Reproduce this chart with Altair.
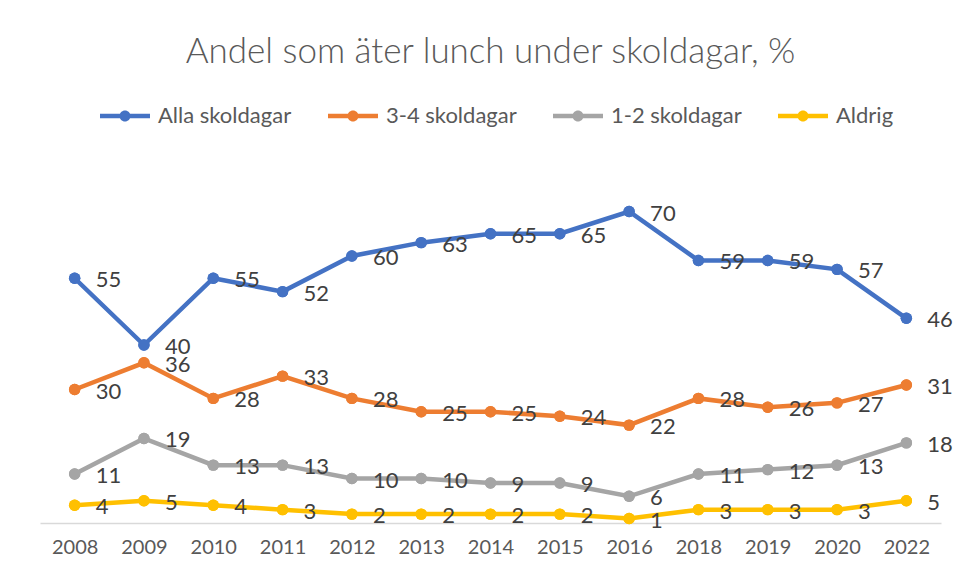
import altair as alt
import pandas as pd

years = ["2008", "2009", "2010", "2011", "2012", "2013", "2014", "2015", "2016", "2018", "2019", "2020", "2022"]
alla = [55, 40, 55, 52, 60, 63, 65, 65, 70, 59, 59, 57, 46]
s34 = [30, 36, 28, 33, 28, 25, 25, 24, 22, 28, 26, 27, 31]
s12 = [11, 19, 13, 13, 10, 10, 9, 9, 6, 11, 12, 13, 18]
aldrig = [4, 5, 4, 3, 2, 2, 2, 2, 1, 3, 3, 3, 5]

series_names = ["Alla skoldagar", "3-4 skoldagar", "1-2 skoldagar", "Aldrig"]
series_vals = [alla, s34, s12, aldrig]
colors = ["#4472C4", "#ED7D31", "#A5A5A5", "#FFC000"]

rows = []
for name, vals in zip(series_names, series_vals):
    for y, v in zip(years, vals):
        rows.append({"year": y, "serie": name, "value": v})
df = pd.DataFrame(rows)

FONT = "Lato"

x = alt.X("year:N", sort=years, title=None,
          scale=alt.Scale(paddingInner=0, paddingOuter=0.5),
          axis=alt.Axis(labelAngle=0, labelFontSize=20, labelColor="#595959", labelFont=FONT,
                        domainColor="#D9D9D9", domainWidth=1.5, ticks=False, labelPadding=14))
y = alt.Y("value:Q", title=None, axis=None, scale=alt.Scale(domain=[0, 80], nice=False))
color_scale = alt.Scale(domain=series_names, range=colors)

sym = ("M-1,-0.09L1,-0.09L1,0.09L-1,0.09Z "
       "M-0.22,0A0.22,0.22 0 1,1 0.22,0A0.22,0.22 0 1,1 -0.22,0Z")

legend = alt.Legend(title=None, orient="none", direction="horizontal",
                    legendX=60, legendY=-76,
                    symbolType=sym, symbolSize=2500, symbolStrokeWidth=0, symbolOpacity=1,
                    labelFontSize=22, labelColor="#595959", labelFont=FONT,
                    labelOffset=8, columnPadding=36)

base = alt.Chart(df)

points = base.mark_point(filled=True, size=130, opacity=1).encode(
    x=x, y=y,
    color=alt.Color("serie:N", scale=color_scale, legend=legend),
)
lines = base.mark_line(strokeWidth=4.5).encode(
    x=x, y=y,
    color=alt.Color("serie:N", scale=color_scale, legend=legend),
)
labels = base.mark_text(align="left", baseline="middle", dx=21, dy=2, fontSize=22,
                        color="#404040", font=FONT).encode(
    x=x, y=y, text="value:Q", detail="serie:N"
)

chart = alt.layer(points, lines, points, labels).properties(
    width=901, height=356,
    title=alt.TitleParams("Andel som äter lunch under skoldagar, %", fontSize=35,
                          font=FONT, fontWeight=300, color="#595959",
                          anchor="middle", frame="group", offset=21),
    autosize=alt.AutoSizeParams(type="none"),
    padding={"left": 40, "top": 167, "right": 22, "bottom": 55},
).configure(background="white").configure_view(stroke=None)

chart.save("out.html", embed_options={"renderer": "svg", "actions": False})
